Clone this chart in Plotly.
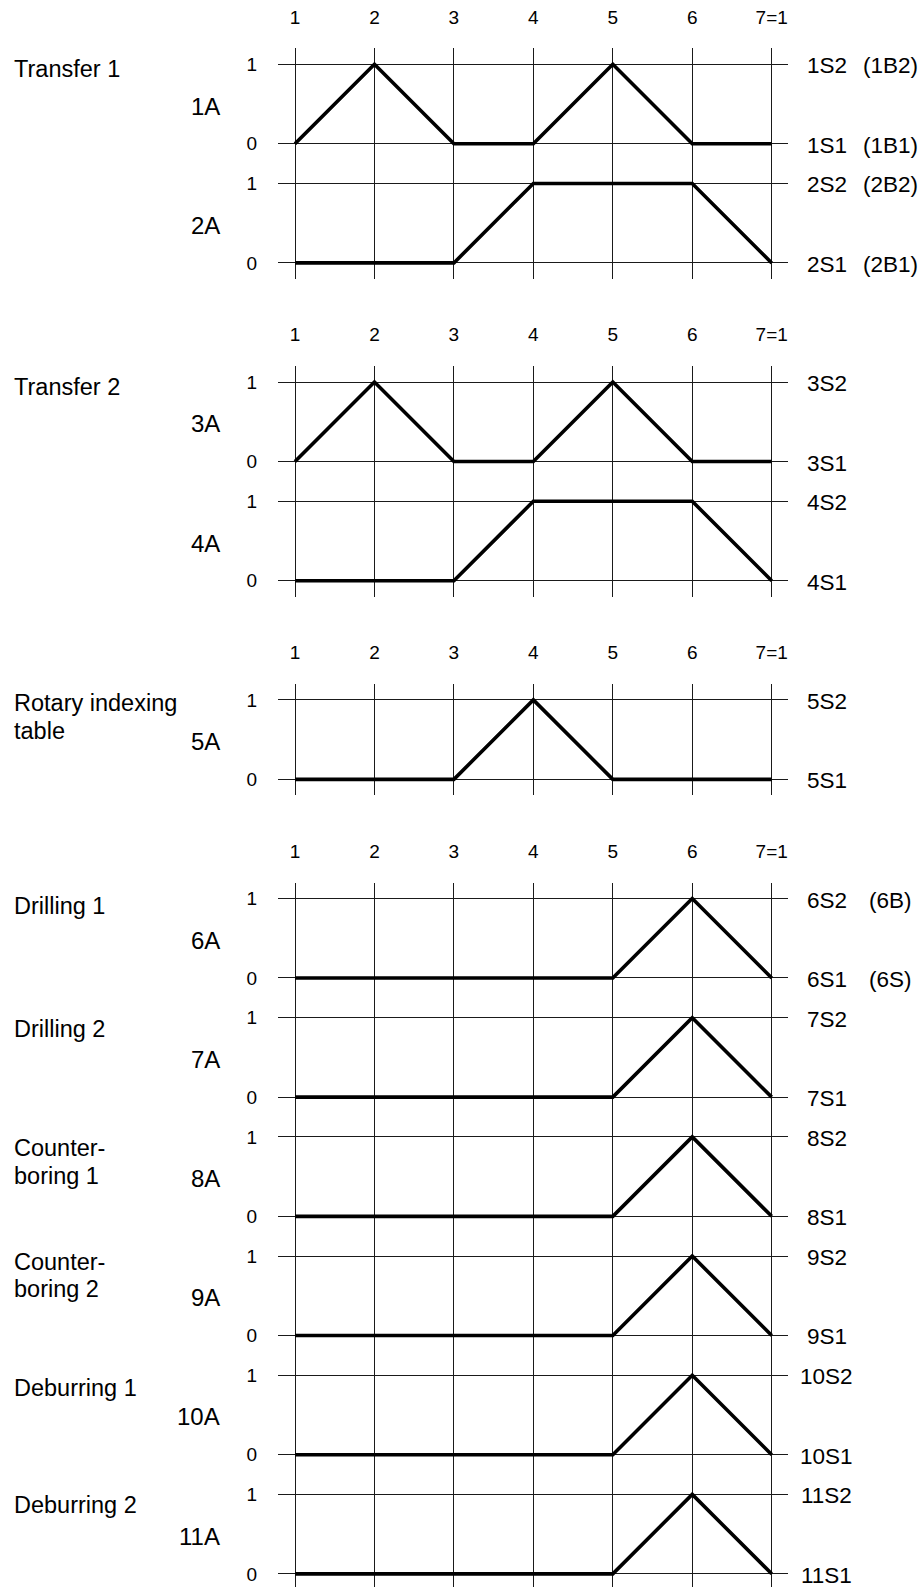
import plotly.graph_objects as go

# ---------------- data ----------------
steps = [1, 2, 3, 4, 5, 6, 7]
step_labels = ["1", "2", "3", "4", "5", "6", "7=1"]

# cylinder motion per step (0 = retracted, 1 = extended)
cyl_1A = [0, 1, 0, 0, 1, 0, 0]
cyl_2A = [0, 0, 0, 1, 1, 1, 0]
cyl_3A = [0, 1, 0, 0, 1, 0, 0]
cyl_4A = [0, 0, 0, 1, 1, 1, 0]
cyl_5A = [0, 0, 0, 1, 0, 0, 0]
cyl_6A = [0, 0, 0, 0, 0, 1, 0]
cyl_7A = [0, 0, 0, 0, 0, 1, 0]
cyl_8A = [0, 0, 0, 0, 0, 1, 0]
cyl_9A = [0, 0, 0, 0, 0, 1, 0]
cyl_10A = [0, 0, 0, 0, 0, 1, 0]
cyl_11A = [0, 0, 0, 0, 0, 1, 0]

cylinder_names = ["1A", "2A", "3A", "4A", "5A", "6A", "7A", "8A", "9A", "10A", "11A"]
cylinder_values = [cyl_1A, cyl_2A, cyl_3A, cyl_4A, cyl_5A, cyl_6A, cyl_7A,
                   cyl_8A, cyl_9A, cyl_10A, cyl_11A]

# groups of cylinders (each group is one block of the diagram)
groups = [["1A", "2A"], ["3A", "4A"], ["5A"], ["6A", "7A", "8A", "9A", "10A", "11A"]]

# function names (left side)
function_names = {
    "1A": "Transfer 1",
    "3A": "Transfer 2",
    "5A": "Rotary indexing<br>table",
    "6A": "Drilling 1",
    "7A": "Drilling 2",
    "8A": "Counter-<br>boring 1",
    "9A": "Counter-<br>boring 2",
    "10A": "Deburring 1",
    "11A": "Deburring 2",
}

# sensor labels (right side): (extended, retracted)
sensor_main = {
    "1A": ("1S2", "1S1"), "2A": ("2S2", "2S1"), "3A": ("3S2", "3S1"),
    "4A": ("4S2", "4S1"), "5A": ("5S2", "5S1"), "6A": ("6S2", "6S1"),
    "7A": ("7S2", "7S1"), "8A": ("8S2", "8S1"), "9A": ("9S2", "9S1"),
    "10A": ("10S2", "10S1"), "11A": ("11S2", "11S1"),
}
sensor_alt = {
    "1A": ("(1B2)", "(1B1)"), "2A": ("(2B2)", "(2B1)"), "6A": ("(6B)", "(6S)"),
}

# ---------------- layout geometry ----------------
W, H = 921, 1587
UNIT = 79.45          # px per step / per unit of travel
TOP0 = 64.3           # px of first "1" line
X1PX = 295.0          # px of step 1
XL, XR = 278.0, 788.3 # horizontal line extent (px)
GROUP_START_U = [0.0, 4.0, 8.0, 10.5]
ROW_PITCH = 1.5
EXT = 0.2             # vertical line overhang (units)

# left-name vertical offsets (px below row top line)
name_offsets = {"1A": 4.4, "3A": 5.2, "5A": 3.4, "6A": 7.2, "7A": 11.6,
                "8A": 11.4, "9A": 5.6, "10A": 13.0, "11A": 10.5}
name_alt_x = {"1A": 860.5, "2A": 860.5, "6A": 866.5}

FONT = "Liberation Sans, Arial, Helvetica, sans-serif"
GRID = "#1a1a1a"

fig = go.Figure()
annotations = []
values_of = dict(zip(cylinder_names, cylinder_values))

x_lo = 1 - (X1PX - XL) / UNIT
x_hi = 1 + (XR - X1PX) / UNIT

for g, rows in enumerate(groups):
    n = len(rows)
    sfx = "" if g == 0 else str(g + 1)
    xa, ya = "x" + sfx, "y" + sfx
    start_u = GROUP_START_U[g]
    top_px = TOP0 + (start_u - EXT) * UNIT
    base_last_px = TOP0 + (start_u + (n - 1) * ROW_PITCH + 1) * UNIT
    bot_px = base_last_px + EXT * UNIT
    y_lo = -EXT
    if bot_px > H:
        bot_px = H
        y_lo = -(H - base_last_px) / UNIT
    y_hi = (n - 1) * ROW_PITCH + 1 + EXT
    ydom = [1 - bot_px / H, 1 - top_px / H]

    tickvals, ticktext = [], []
    for r, name in enumerate(rows):
        base = (n - 1 - r) * ROW_PITCH
        tickvals += [base, base + 1]
        ticktext += ["0", "1"]
        fig.add_trace(go.Scatter(
            x=steps, y=[base + v for v in values_of[name]],
            mode="lines", line=dict(color="black", width=3.6),
            xaxis=xa, yaxis=ya, showlegend=False, hoverinfo="skip"))
        # cylinder label
        annotations.append(dict(text=name, xref="paper", x=222 / W, xanchor="right",
                                yref=ya, y=base + 0.5, yshift=-2, yanchor="middle",
                                showarrow=False, font=dict(size=24, family=FONT, color="black")))
        # sensor labels
        top_lbl, bot_lbl = sensor_main[name]
        for lbl, yy in ((top_lbl, base + 1), (bot_lbl, base)):
            annotations.append(dict(text=lbl, xref="paper", x=826.5 / W, xanchor="center",
                                    yref=ya, y=yy, yshift=-1.5, yanchor="middle",
                                    showarrow=False, font=dict(size=22.5, family=FONT, color="black")))
        if name in sensor_alt:
            for lbl, yy in zip(sensor_alt[name], (base + 1, base)):
                annotations.append(dict(text=lbl, xref="paper", x=name_alt_x[name] / W, xanchor="left",
                                        yref=ya, y=yy, yshift=-1.5, yanchor="middle",
                                        showarrow=False, font=dict(size=22.5, family=FONT, color="black")))
        # function name
        if name in function_names:
            for i, line in enumerate(function_names[name].split("<br>")):
                annotations.append(dict(text=line, xref="paper", x=12 / W, xanchor="left",
                                        yref=ya, y=base + 1,
                                        yshift=-(name_offsets[name] + i * 27.4), yanchor="middle",
                                        showarrow=False, align="left",
                                        font=dict(size=23.5, family=FONT, color="black")))

    fig.update_layout(**{
        ("xaxis" + sfx): dict(domain=[XL / W, XR / W], range=[x_lo, x_hi], anchor=ya,
                              side="top", tickmode="array", tickvals=steps, ticktext=step_labels,
                              showgrid=True, gridcolor=GRID, gridwidth=1.4, zeroline=False,
                              showline=False, ticks="", ticklabelstandoff=20,
                              tickfont=dict(size=19, family=FONT, color="black"), fixedrange=True),
        ("yaxis" + sfx): dict(domain=ydom, range=[y_lo, y_hi], anchor=xa,
                              tickmode="array", tickvals=tickvals, ticktext=ticktext,
                              showgrid=True, gridcolor=GRID, gridwidth=1.4, zeroline=False,
                              showline=False, ticks="", ticklabelstandoff=20,
                              tickfont=dict(size=19, family=FONT, color="black"), fixedrange=True),
    })

fig.update_layout(width=W, height=H, margin=dict(l=0, r=0, t=0, b=0),
                  paper_bgcolor="white", plot_bgcolor="white",
                  annotations=annotations, showlegend=False)

fig.write_html("out.html", config={"displayModeBar": False},
               post_script="document.body.style.margin='0';document.body.style.overflow='hidden';")
